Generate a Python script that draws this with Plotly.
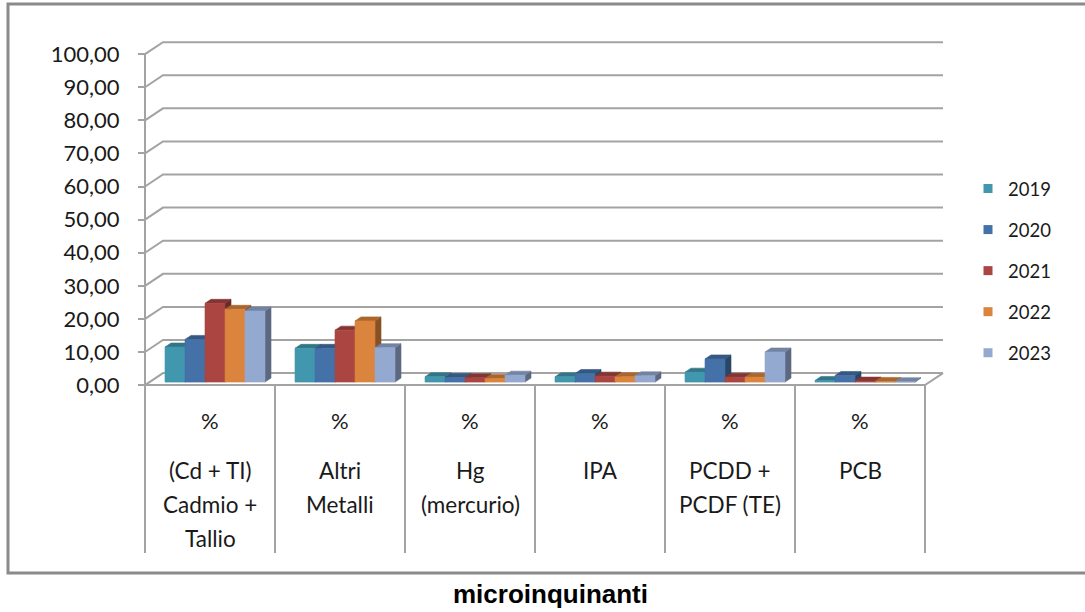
import plotly.graph_objects as go

# ---- data ----
label_lines = [
    ["(Cd + TI)", "Cadmio +", "Tallio"],
    ["Altri", "Metalli"],
    ["Hg", "(mercurio)"],
    ["IPA"],
    ["PCDD +", "PCDF (TE)"],
    ["PCB"],
]
years = ["2019", "2020", "2021", "2022", "2023"]
v2019 = [10.6, 10.2, 1.6, 1.6, 3.0, 0.5]
v2020 = [12.9, 10.2, 1.4, 2.6, 7.0, 2.0]
v2021 = [23.8, 15.7, 1.3, 1.8, 1.5, 0.3]
v2022 = [22.0, 18.5, 1.1, 1.6, 1.5, 0.2]
v2023 = [21.5, 10.4, 2.1, 1.9, 9.1, 0.1]
series = [v2019, v2020, v2021, v2022, v2023]
y_ticks = list(range(0, 101, 10))
x_title = "microinquinanti"

colors = ["#4197AE", "#4471A7", "#AA4542", "#DB843D", "#94A9D0"]

# ---- geometry (one category = 130 px, value unit in px) ----
W, H = 1085, 612
CAT_PX = 130.0
PLOT_L, PLOT_R = 132, 964
PLOT_T, PLOT_B = 31, 395
X_RANGE = [-0.6, -0.6 + (PLOT_R - PLOT_L) / CAT_PX]
Y_RANGE = [-3, 107]
UNIT_PX = (PLOT_B - PLOT_T) / (Y_RANGE[1] - Y_RANGE[0])

WALL_DX = 18 / CAT_PX          # depth of floor / side wall
WALL_DY = 12 / UNIT_PX
BAR_DX = 6 / CAT_PX            # depth of each column
BAR_DY = 4 / UNIT_PX
BAR_BASE = 0.9                 # columns stand a little inside the floor
BAR_W = 20 / CAT_PX
BAR_START = 20 / CAT_PX
N_CAT = len(label_lines)


def px_to_paper_x(px):
    return (px - PLOT_L) / (PLOT_R - PLOT_L)


def px_to_paper_y(py):
    return (PLOT_B - py) / (PLOT_B - PLOT_T)


def shade(hex_color, f):
    h = hex_color.lstrip("#")
    r, g, b = (int(h[i:i + 2], 16) for i in (0, 2, 4))
    return "#%02x%02x%02x" % (int(r * f), int(g * f), int(b * f))


fig = go.Figure()


def poly(xs, ys, color):
    fig.add_trace(go.Scatter(
        x=xs + [xs[0]], y=ys + [ys[0]], mode="lines", fill="toself",
        fillcolor=color, line=dict(color=color, width=0.6),
        hoverinfo="skip", showlegend=False))


# columns, drawn left to right so nearer faces cover the hidden ones
for i in range(N_CAT):
    for k, vals in enumerate(series):
        v = vals[i]
        x0 = i - 0.5 + BAR_START + k * BAR_W
        x1 = x0 + BAR_W
        y0 = BAR_BASE
        y1 = BAR_BASE + v
        c = colors[k]
        poly([x1, x1 + BAR_DX, x1 + BAR_DX, x1],
             [y0, y0 + BAR_DY, y1 + BAR_DY, y1], shade(c, 0.62))
        poly([x0, x1, x1 + BAR_DX, x0 + BAR_DX],
             [y1, y1, y1 + BAR_DY, y1 + BAR_DY], shade(c, 0.78))
        poly([x0, x1, x1, x0], [y0, y0, y1, y1], c)

# legend entries
for k, name in enumerate(years):
    fig.add_trace(go.Scatter(
        x=[None], y=[None], mode="markers", name=name, legendgroup=name,
        marker=dict(symbol="square", size=9, color=colors[k])))

GRID = "#a3a3a3"
shapes = []
x_left = -0.5
x_right = N_CAT - 0.5
# back wall gridlines with their diagonal on the side wall
for t in y_ticks:
    shapes.append(dict(type="path", xref="x", yref="y", layer="below",
                       path="M%f,%f L%f,%f L%f,%f" % (
                           x_left, t, x_left + WALL_DX, t + WALL_DY,
                           x_right + WALL_DX, t + WALL_DY),
                       line=dict(color=GRID, width=2)))
# floor front edge and right edge
shapes.append(dict(type="path", xref="x", yref="y", layer="below",
                   path="M%f,0 L%f,0 L%f,%f" % (
                       x_left, x_right, x_right + WALL_DX, WALL_DY),
                   line=dict(color=GRID, width=2)))
# value axis line
shapes.append(dict(type="line", xref="x", yref="y", x0=x_left, x1=x_left,
                   y0=0, y1=100, line=dict(color=GRID, width=2)))
# category separators below the floor
sep_bottom = px_to_paper_y(553)
for j in range(N_CAT + 1):
    shapes.append(dict(type="line", xref="x", yref="paper",
                       x0=j - 0.5, x1=j - 0.5, y0=px_to_paper_y(PLOT_B - 3 * UNIT_PX),
                       y1=sep_bottom, line=dict(color=GRID, width=2)))
# chart frame
shapes.append(dict(type="rect", xref="paper", yref="paper",
                   x0=px_to_paper_x(8), x1=px_to_paper_x(1095),
                   y0=px_to_paper_y(573), y1=px_to_paper_y(4),
                   line=dict(color="#8a8a8a", width=3)))

TXT = "#1a1a1a"
FONT = "Lato"
annotations = []
for i, lines in enumerate(label_lines):
    annotations.append(dict(x=i, y=px_to_paper_y(420), xref="x", yref="paper",
                            text="%", showarrow=False, xanchor="center",
                            yanchor="middle", font=dict(family=FONT, size=22, color=TXT)))
    for r, line in enumerate(lines):
        annotations.append(dict(x=i, y=px_to_paper_y(470 + 34 * r), xref="x", yref="paper",
                                text=line, showarrow=False, xanchor="center",
                                yanchor="middle", font=dict(family=FONT, size=22.5, color=TXT)))
annotations.append(dict(x=px_to_paper_x(550), y=px_to_paper_y(594), xref="paper", yref="paper",
                        text="<b>%s</b>" % x_title, showarrow=False,
                        xanchor="center", yanchor="middle",
                        font=dict(family="Liberation Sans", size=26, color="#000000")))

fig.update_layout(
    width=W, height=H,
    margin=dict(l=PLOT_L, r=W - PLOT_R, t=PLOT_T, b=H - PLOT_B, pad=0),
    paper_bgcolor="white", plot_bgcolor="white",
    separators=",.",
    shapes=shapes, annotations=annotations,
    showlegend=True,
    legend=dict(x=px_to_paper_x(968), y=px_to_paper_y(170), xanchor="left", yanchor="top",
                font=dict(family=FONT, size=18.5, color=TXT), tracegroupgap=14,
                bgcolor="rgba(0,0,0,0)", itemclick=False, itemdoubleclick=False),
    xaxis=dict(range=X_RANGE, visible=False, fixedrange=True),
    yaxis=dict(range=Y_RANGE, tickvals=y_ticks, tickformat=".2f",
               showgrid=False, zeroline=False, showline=False,
               ticks="outside", ticklen=7, tickwidth=2, tickcolor=GRID,
               tickfont=dict(family=FONT, size=22, color=TXT),
               ticklabelstandoff=14,
               anchor="free", position=(145 - PLOT_L) / (PLOT_R - PLOT_L),
               fixedrange=True),
)

fig.write_html("out.html")
